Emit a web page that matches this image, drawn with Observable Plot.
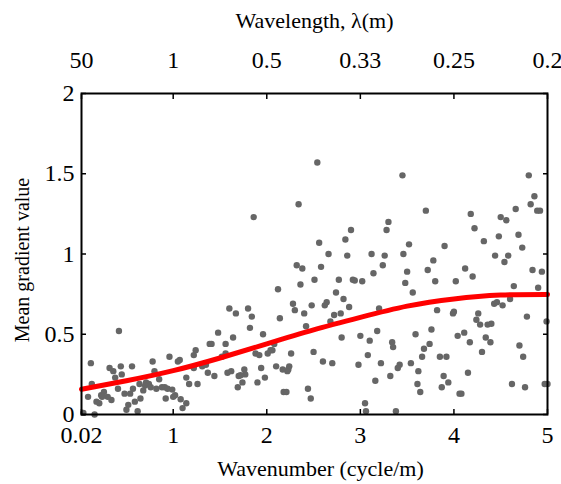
<!DOCTYPE html>
<html><head><meta charset="utf-8">
<script src="https://cdn.jsdelivr.net/npm/d3@7"></script>
<script src="https://cdn.jsdelivr.net/npm/@observablehq/plot@0.6"></script>
<style>html,body{margin:0;padding:0;background:#fff;}</style>
</head><body><div id="chart"></div>
<script>
// Scatter: wavenumber (cycle/m) and mean gradient value
const waveX = [
2.54,2.34,1.86,2.56,3.45,4.80,4.86,4.82,4.66,4.89,4.92,3.70,4.18,4.50,4.56,3.30,3.28,2.90,4.22,4.69,2.84,4.48,4.32,3.52,3.90,4.73,
2.66,2.86,3.12,3.26,2.32,2.38,2.58,3.24,3.14,2.51,2.77,2.92,2.94,3.02,2.36,2.12,2.74,2.82,2.28,2.64,2.62,2.48,2.88,2.30,2.40,2.72,2.79,3.20,1.80,1.67,1.84,2.14,2.68,1.82,2.42,1.96,3.18,0.42,1.60,1.48,
3.46,4.44,4.58,4.54,3.78,3.50,3.72,4.12,4.20,4.84,4.94,3.48,3.80,4.02,4.64,4.90,3.56,4.43,4.46,4.52,4.60,3.82,3.99,4.00,4.26,4.78,4.99,4.24,4.28,4.36,4.40,3.76,3.59,4.11,4.04,
2.80,3.00,3.10,3.34,1.88,1.92,2.01,2.04,2.06,2.08,2.26,2.50,3.08,2.60,2.70,2.98,3.22,2.10,2.24,2.23,2.22,2.17,1.94,1.76,1.77,1.70,1.72,1.98,1.90,1.74,1.69,3.32,3.16,2.18,2.21,2.44,2.47,3.05,3.06,
3.35,4.17,4.34,4.39,3.74,3.68,4.70,4.30,4.74,3.66,3.85,3.92,3.54,3.42,3.40,3.62,4.15,3.89,3.94,3.87,3.61,3.64,4.08,4.06,4.62,4.76,4.97,5.00,3.38,
1.64,1.39,1.41,1.56,1.24,1.22,0.96,1.05,1.07,0.12,0.78,0.56,0.44,0.32,0.36,0.45,0.38,0.80,1.31,1.37,1.44,1.22,1.14,1.17,1.26,1.58,1.62,0.85,0.71,0.74,0.70,0.76,0.13,0.64,0.41,0.57,0.68,0.48,0.54,0.82,0.88,0.91,0.94,0.99,0.26,0.23,0.09,1.02,1.00,0.92,1.08,1.14,1.10,0.65,0.59,0.34,0.18,0.21,0.24,0.52,0.50,0.62,0.04,0.16,0.30,1.52,1.56,1.35
];
const gradY = [
1.57,1.31,1.23,1.07,1.49,1.49,1.36,1.31,1.28,1.27,1.27,1.27,1.25,1.23,1.21,1.20,1.15,1.15,1.16,1.12,1.09,1.11,1.08,1.06,1.05,1.04,
1.00,0.99,1.00,0.99,0.93,0.91,0.92,0.93,0.88,0.84,0.84,0.84,0.835,0.83,0.81,0.78,0.76,0.72,0.69,0.70,0.68,0.68,0.67,0.65,0.63,0.62,0.63,0.66,0.66,0.63,0.61,0.60,0.58,0.54,0.55,0.50,0.52,0.52,0.66,0.51,
1.00,0.99,0.99,0.95,0.96,0.89,0.90,0.91,0.86,0.90,0.89,0.82,0.83,0.83,0.80,0.79,0.76,0.69,0.70,0.68,0.72,0.65,0.63,0.64,0.63,0.61,0.58,0.59,0.56,0.56,0.565,0.53,0.50,0.51,0.49,
0.48,0.49,0.46,0.45,0.38,0.37,0.38,0.40,0.40,0.44,0.38,0.39,0.37,0.33,0.32,0.31,0.32,0.30,0.30,0.28,0.27,0.28,0.29,0.28,0.25,0.24,0.245,0.23,0.20,0.20,0.17,0.24,0.21,0.14,0.14,0.16,0.10,0.07,0.02,
0.42,0.45,0.48,0.45,0.44,0.41,0.43,0.39,0.36,0.36,0.36,0.36,0.32,0.31,0.29,0.27,0.26,0.24,0.20,0.17,0.19,0.14,0.13,0.13,0.19,0.17,0.19,0.19,0.02,
0.48,0.44,0.44,0.44,0.40,0.37,0.36,0.33,0.34,0.32,0.33,0.30,0.30,0.29,0.27,0.25,0.23,0.27,0.30,0.26,0.24,0.29,0.23,0.19,0.19,0.26,0.27,0.22,0.20,0.19,0.18,0.17,0.19,0.19,0.16,0.16,0.15,0.13,0.13,0.16,0.17,0.17,0.16,0.155,0.14,0.12,0.11,0.12,0.11,0.10,0.095,0.07,0.04,0.10,0.08,0.09,0.08,0.07,0.11,0.06,0.03,0.02,0.01,0.00,0.11,0.36,0.38,0.31
];
// Fitted trend (red curve)
const fitX = [0.02, 0.5, 1, 1.5, 2, 2.5, 3, 3.5, 4, 4.5, 5];
const fitY = [0.157, 0.21, 0.273, 0.352, 0.44, 0.527, 0.605, 0.675, 0.72, 0.744, 0.748];

const xTicks = [0.02, 1, 2, 3, 4, 5];
const xTickLabels = ["0.02", "1", "2", "3", "4", "5"];
const topTickLabels = ["50", "1", "0.5", "0.33", "0.25", "0.2"];
const yTicks = [0, 0.5, 1, 1.5, 2];
const yTickLabels = ["0", "0.5", "1", "1.5", "2"];
const xLabel = "Wavenumber (cycle/m)";
const topLabel = "Wavelength, λ(m)";
const yLabel = "Mean gradient value";

const points = waveX.map((x, i) => ({x, y: gradY[i]}));
const fit = fitX.map((x, i) => ({x, y: fitY[i]}));
const font = "'Liberation Serif','Times New Roman',serif";

const chart = Plot.plot({
  width: 561, height: 484,
  marginLeft: 81, marginRight: 14, marginTop: 93, marginBottom: 70,
  style: {fontFamily: font, background: "white", color: "black", overflow: "visible"},
  x: {domain: [0.02, 5]},
  y: {domain: [0, 2]},
  marks: [
    Plot.dot(points, {x: "x", y: "y", r: 3.2, fill: "#666666"}),
    Plot.line(fit, {x: "x", y: "y", stroke: "#ff0000", strokeWidth: 5, curve: "natural"}),
    Plot.frame({stroke: "black", strokeWidth: 2}),
    Plot.axisX({anchor: "bottom", ticks: xTicks, tickFormat: d => xTickLabels[xTicks.indexOf(d)], tickSize: -5, tickPadding: 16, fontSize: 24, strokeWidth: 1.5, label: null}),
    Plot.axisX({anchor: "top", ticks: xTicks, tickFormat: d => topTickLabels[xTicks.indexOf(d)], tickSize: -5, tickPadding: 31, fontSize: 24, strokeWidth: 1.5, label: null}),
    Plot.axisY({anchor: "left", ticks: yTicks, tickFormat: d => yTickLabels[yTicks.indexOf(d)], tickSize: -5, tickPadding: 12, fontSize: 24, strokeWidth: 1.5, label: null}),
    Plot.axisY({anchor: "right", ticks: yTicks, tickFormat: () => "", tickSize: -5, strokeWidth: 1.5, label: null}),
    Plot.text([xLabel], {frameAnchor: "bottom", lineAnchor: "middle", dy: 54, dx: 6, fontSize: 22}),
    Plot.text([topLabel], {frameAnchor: "top", lineAnchor: "middle", dy: -73, fontSize: 22}),
    Plot.text([yLabel], {frameAnchor: "left", textAnchor: "middle", lineAnchor: "middle", dx: -59, dy: 6, rotate: -90, fontSize: 20})
  ]
});
document.getElementById("chart").appendChild(chart);
</script>
</body></html>
